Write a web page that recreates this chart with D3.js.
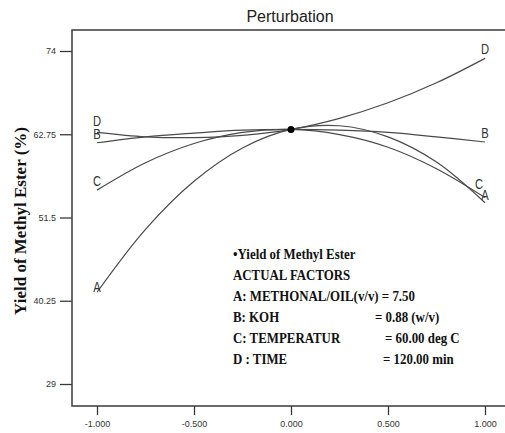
<!DOCTYPE html>
<html>
<head>
<meta charset="utf-8">
<script src="https://cdn.jsdelivr.net/npm/d3@7"></script>
<style>
  body { margin: 0; background: #fff; }
  .chart { width: 505px; height: 433px; overflow: hidden; }
</style>
</head>
<body>
<div class="chart"></div>
<script>
// coded factor levels where the curves were read
var levels = [-1, -0.75, -0.5, -0.25, 0, 0.25, 0.5, 0.75, 1];

// yield
var factorA = [41.4, 49.9, 56.4, 60.9, 63.4, 63.9, 62.4, 59.0, 53.5];
var factorB = [61.6, 62.4, 62.9, 63.3, 63.4, 63.3, 63.0, 62.4, 61.7];
var factorC = [55.2, 58.9, 61.5, 63.0, 63.4, 62.7, 61.0, 58.1, 54.2];
var factorD = [63.0, 62.4, 62.3, 62.6, 63.4, 64.9, 67.0, 69.7, 73.0];

var xTicks = [-1, -0.5, 0, 0.5, 1];
var xTickLabels = ['-1.000', '-0.500', '0.000', '0.500', '1.000'];
var yTicks = [74, 62.75, 51.5, 40.25, 29];
var yTickLabels = ['74', '62.75', '51.5', '40.25', '29'];

var centerPoint = [0, 63.4];

var infoTitle = '\u2022Yield  of Methyl Ester';
var infoLines = [
  ['ACTUAL FACTORS', ''],
  ['A: METHONAL/OIL(v/v) = 7.50', ''],
  ['B: KOH', '= 0.88 (w/v)'],
  ['C: TEMPERATUR', '= 60.00 deg C'],
  ['D : TIME', '= 120.00 min']
];

var series = [
  {name: 'A', values: factorA},
  {name: 'B', values: factorB},
  {name: 'C', values: factorC},
  {name: 'D', values: factorD}
];

var margin = {top: 30, right: 0, bottom: 27, left: 72};
var width = 505 - margin.left - margin.right;
var height = 433 - margin.top - margin.bottom;

var root = d3.select('.chart')
  .append('svg')
    .attr('width', 505)
    .attr('height', 433);

root.append('text')
  .attr('x', 290)
  .attr('y', 22)
  .attr('text-anchor', 'middle')
  .style('font-family', '"Liberation Sans", Arial, sans-serif')
  .style('font-size', '16px')
  .attr('fill', '#222')
  .text('Perturbation');

root.append('text')
  .attr('transform', 'translate(26, 221) rotate(-90)')
  .attr('text-anchor', 'middle')
  .style('font-family', '"Liberation Serif", "Times New Roman", serif')
  .style('font-weight', 'bold')
  .style('font-size', '17px')
  .attr('fill', '#111')
  .text('Yield  of Methyl Ester (%)');

var svg = root.append('g')
  .attr('transform', `translate(${margin.left}, ${margin.top})`);

var xScale = d3.scaleLinear()
  .domain([-1, 1])
  .range([25, 413]);

var yScale = d3.scaleLinear()
  .domain([29, 74])
  .range([354, 21]);

// frame: left, top and bottom (right side runs off the picture)
var axisColor = '#3a3a3a';
svg.append('path')
  .attr('d', `M${width + 2},0 H0 V${height} H${width + 2}`)
  .attr('fill', 'none')
  .attr('stroke', axisColor)
  .attr('stroke-width', 1.5);

var yAxis = svg.append('g')
  .call(d3.axisLeft(yScale)
    .tickValues(yTicks)
    .tickSize(12)
    .tickPadding(4)
    .tickFormat((d, i) => yTickLabels[i]));

var xAxis = svg.append('g')
  .attr('transform', `translate(0, ${height})`)
  .call(d3.axisBottom(xScale)
    .tickValues(xTicks)
    .tickSize(9)
    .tickPadding(6)
    .tickFormat((d, i) => xTickLabels[i]));

[xAxis, yAxis].forEach(function(ax) {
  ax.select('.domain').remove();
  ax.selectAll('line').attr('stroke', axisColor).attr('stroke-width', 1.3);
  ax.selectAll('text')
    .attr('fill', '#333')
    .style('font-family', '"Liberation Sans Narrow", "Liberation Sans", sans-serif')
    .style('font-size', '9px');
});

var line = d3.line()
  .x((d, i) => xScale(levels[i]))
  .y(d => yScale(d))
  .curve(d3.curveCatmullRom);

svg.selectAll('.curve')
  .data(series)
  .enter()
  .append('path')
    .attr('class', 'curve')
    .attr('d', d => line(d.values))
    .attr('fill', 'none')
    .attr('stroke', '#4a4a4a')
    .attr('stroke-width', 1.2);

// letters at both ends of each curve
var ends = [];
series.forEach(function(s) {
  ends.push({name: s.name, x: levels[0], y: s.values[0], side: 'left'});
  ends.push({name: s.name, x: levels[levels.length - 1], y: s.values[s.values.length - 1], side: 'right'});
});

svg.selectAll('.end-label')
  .data(ends)
  .enter()
  .append('text')
    .attr('class', 'end-label')
    .attr('transform', function(d) {
      var dx = 0, dy = -4;
      if (d.side === 'right' && d.name === 'C') { dx = -6; dy = -9; }
      if (d.side === 'right' && d.name === 'A') { dy = -3; }
      if (d.side === 'left' && d.name === 'A') { dy = 0; }
      if (d.side === 'left' && d.name === 'D') { dy = -6; }
      return `translate(${xScale(d.x) + dx}, ${yScale(d.y) + dy}) scale(0.8, 1)`;
    })
    .attr('text-anchor', 'middle')
    .style('font-family', '"Liberation Sans Narrow", "Liberation Sans", sans-serif')
    .style('font-size', '14px')
    .attr('fill', '#333')
    .text(d => d.name);

svg.append('circle')
  .attr('cx', xScale(centerPoint[0]))
  .attr('cy', yScale(centerPoint[1]))
  .attr('r', 3.5)
  .attr('fill', '#000');

// annotation block
var info = root.append('g')
  .style('font-family', '"Liberation Serif", "Times New Roman", serif')
  .style('font-weight', 'bold')
  .style('font-size', '15px')
  .attr('fill', '#111');

info.append('text')
  .attr('transform', 'translate(233, 259) scale(0.86, 1)')
  .text(infoTitle);

var rowStep = 21;
var valueX = [0, 0, 375, 385, 383];
infoLines.forEach(function(row, i) {
  var y = 280 + i * rowStep;
  info.append('text')
    .attr('transform', `translate(233, ${y}) scale(0.86, 1)`)
    .text(row[0]);
  if (row[1]) {
    info.append('text')
      .attr('transform', `translate(${valueX[i]}, ${y}) scale(0.86, 1)`)
      .text(row[1]);
  }
});
</script>
</body>
</html>
